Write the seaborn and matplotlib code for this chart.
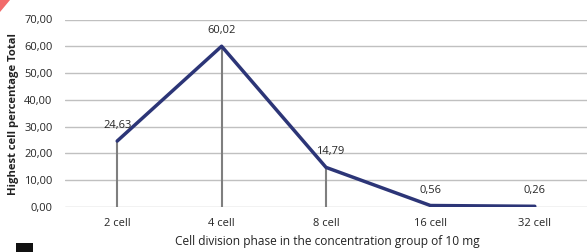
import matplotlib
matplotlib.use("Agg")
import matplotlib.pyplot as plt
import seaborn as sns
import pandas as pd
import numpy as np
from matplotlib.patches import Polygon, Rectangle

categories = ["2 cell", "4 cell", "8 cell", "16 cell", "32 cell"]
values = [24.63, 60.02, 14.79, 0.56, 0.26]
value_labels = ["24,63", "60,02", "14,79", "0,56", "0,26"]
yticks = [0, 10, 20, 30, 40, 50, 60, 70]
ytick_labels = ["0,00", "10,00", "20,00", "30,00", "40,00", "50,00", "60,00", "70,00"]

sns.set_style("white")
plt.rcParams['font.family'] = ['Open Sans', 'DejaVu Sans']

df = pd.DataFrame({"phase": categories, "pct": values})

fig = plt.figure(figsize=(5.87, 2.52), dpi=100)
W, H = 587, 252
ax = fig.add_axes([65 / W, (H - 207) / H, (587 - 65) / W, (207 - 19.5) / H])

ax.set_ylim(0, 70)
ax.set_xlim(-0.5, 4.5)
ax.set_yticks(yticks)
ax.set_yticklabels(ytick_labels, fontsize=8, color="#262626")
ax.yaxis.grid(True, color="#c0c0c0", linewidth=1.0)
ax.set_axisbelow(True)
for s in ax.spines.values():
    s.set_visible(False)

xs = np.arange(len(categories))
ax.vlines(xs, 0, values, color="#7f7f7f", linewidth=1.5, zorder=2)

sns.lineplot(data=df, x="phase", y="pct", ax=ax, color="#2c3577",
             linewidth=2.5, sort=False, zorder=3)

ax.set_xticks(xs)
ax.set_xticklabels(categories, fontsize=8, color="#262626")
ax.tick_params(axis="x", length=0, pad=8)
ax.tick_params(axis="y", length=0, pad=9)
ax.set_xlabel("")
ax.set_ylabel("")

for i, (v, lab) in enumerate(zip(values, value_labels)):
    ax.annotate(lab, (i, v), xytext=(0 if i != 2 else 4, 10),
                textcoords="offset pixels", ha="center", va="bottom",
                fontsize=8, color="#262626")

fig.text(14 / W, 1 - 114 / H, "Highest cell percentage Total", rotation=90,
         ha="center", va="center", fontsize=8.1, fontweight="bold", color="#222222")
fig.text(327 / W, 1 - 241 / H, "Cell division phase in the concentration group of 10 mg",
         ha="center", va="center", fontsize=8.6, color="#222222")

# decorative artifacts from the source image
fig.patches.append(Polygon([[0, 1], [10 / W, 1], [0, 1 - 12 / H]], closed=True,
                           transform=fig.transFigure, facecolor="#f26b6b", edgecolor="none"))
fig.patches.append(Rectangle((16 / W, 0), 17 / W, 9 / H, transform=fig.transFigure,
                             facecolor="#111111", edgecolor="none"))

fig.savefig("out.png", dpi=100)
